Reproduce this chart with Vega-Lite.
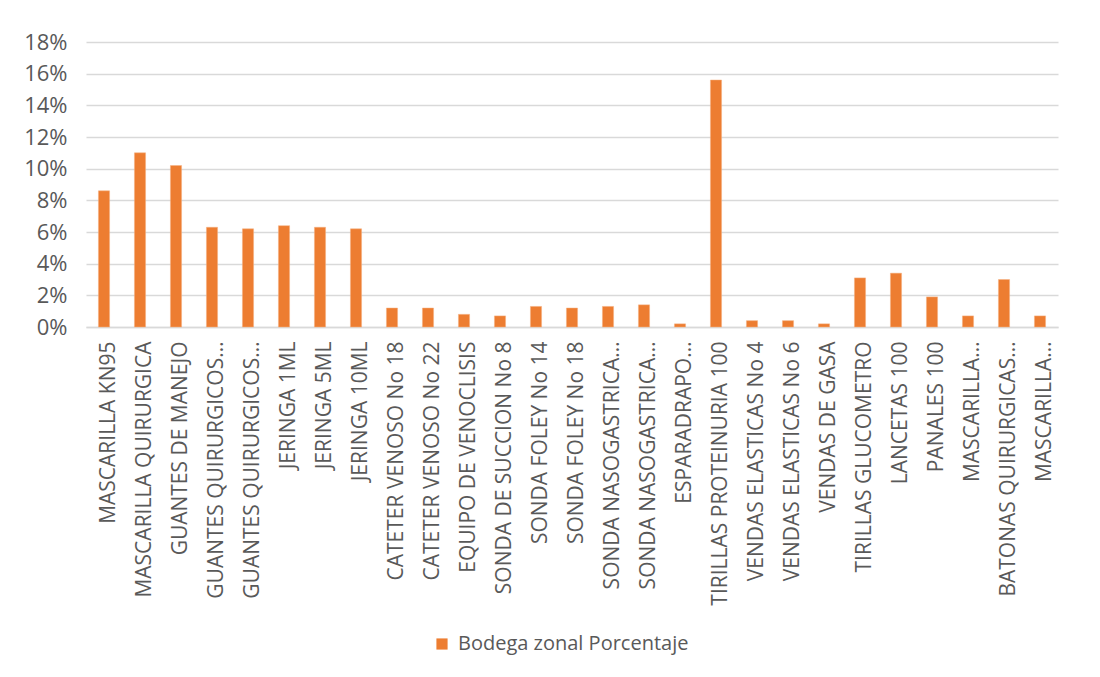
{
  "$schema": "https://vega.github.io/schema/vega-lite/v6.json",
  "autosize": "none",
  "width": 972,
  "height": 285,
  "padding": {"left": 86, "top": 42, "right": 42, "bottom": 350},
  "background": "white",
  "data": {
    "values": [
      {"producto": "MASCARILLA KN95", "serie": "Bodega zonal Porcentaje", "porcentaje": 0.086},
      {"producto": "MASCARILLA QUIRURGICA", "serie": "Bodega zonal Porcentaje", "porcentaje": 0.110},
      {"producto": "GUANTES DE MANEJO", "serie": "Bodega zonal Porcentaje", "porcentaje": 0.102},
      {"producto": "GUANTES QUIRURGICOS…|1", "serie": "Bodega zonal Porcentaje", "porcentaje": 0.063},
      {"producto": "GUANTES QUIRURGICOS…|2", "serie": "Bodega zonal Porcentaje", "porcentaje": 0.062},
      {"producto": "JERINGA 1ML", "serie": "Bodega zonal Porcentaje", "porcentaje": 0.064},
      {"producto": "JERINGA 5ML", "serie": "Bodega zonal Porcentaje", "porcentaje": 0.063},
      {"producto": "JERINGA 10ML", "serie": "Bodega zonal Porcentaje", "porcentaje": 0.062},
      {"producto": "CATETER VENOSO No 18", "serie": "Bodega zonal Porcentaje", "porcentaje": 0.012},
      {"producto": "CATETER VENOSO No 22", "serie": "Bodega zonal Porcentaje", "porcentaje": 0.012},
      {"producto": "EQUIPO DE VENOCLISIS", "serie": "Bodega zonal Porcentaje", "porcentaje": 0.008},
      {"producto": "SONDA DE SUCCION No 8", "serie": "Bodega zonal Porcentaje", "porcentaje": 0.007},
      {"producto": "SONDA FOLEY No 14", "serie": "Bodega zonal Porcentaje", "porcentaje": 0.013},
      {"producto": "SONDA FOLEY No 18", "serie": "Bodega zonal Porcentaje", "porcentaje": 0.012},
      {"producto": "SONDA NASOGASTRICA…|1", "serie": "Bodega zonal Porcentaje", "porcentaje": 0.013},
      {"producto": "SONDA NASOGASTRICA…|2", "serie": "Bodega zonal Porcentaje", "porcentaje": 0.014},
      {"producto": "ESPARADRAPO…", "serie": "Bodega zonal Porcentaje", "porcentaje": 0.002},
      {"producto": "TIRILLAS PROTEINURIA 100", "serie": "Bodega zonal Porcentaje", "porcentaje": 0.156},
      {"producto": "VENDAS ELASTICAS No 4", "serie": "Bodega zonal Porcentaje", "porcentaje": 0.004},
      {"producto": "VENDAS ELASTICAS No 6", "serie": "Bodega zonal Porcentaje", "porcentaje": 0.004},
      {"producto": "VENDAS DE GASA", "serie": "Bodega zonal Porcentaje", "porcentaje": 0.002},
      {"producto": "TIRILLAS GLUCOMETRO", "serie": "Bodega zonal Porcentaje", "porcentaje": 0.031},
      {"producto": "LANCETAS 100", "serie": "Bodega zonal Porcentaje", "porcentaje": 0.034},
      {"producto": "PANALES 100", "serie": "Bodega zonal Porcentaje", "porcentaje": 0.019},
      {"producto": "MASCARILLA…|1", "serie": "Bodega zonal Porcentaje", "porcentaje": 0.007},
      {"producto": "BATONAS QUIRURGICAS…", "serie": "Bodega zonal Porcentaje", "porcentaje": 0.030},
      {"producto": "MASCARILLA…|2", "serie": "Bodega zonal Porcentaje", "porcentaje": 0.007}
    ]
  },
  "mark": {"type": "bar", "stroke": "#F4B183", "strokeWidth": 0.5},
  "encoding": {
    "x": {
      "field": "producto",
      "type": "nominal",
      "sort": null,
      "scale": {"paddingInner": 0.69, "paddingOuter": 0.345},
      "axis": {
        "title": null,
        "labelExpr": "split(datum.value, '|')[0]",
        "labelAngle": -90,
        "labelAlign": "right",
        "labelBaseline": "middle",
        "labelPadding": 14,
        "labelOffset": 5,
        "labelFont": "Open Sans",
        "labelFontSize": 21,
        "labelColor": "#595959",
        "labelLimit": 500,
        "labelOverlap": false,
        "ticks": false,
        "domainColor": "#D9D9D9",
        "domainWidth": 1.5,
        "grid": false
      }
    },
    "y": {
      "field": "porcentaje",
      "type": "quantitative",
      "scale": {"domain": [0, 0.18], "nice": false},
      "axis": {
        "title": null,
        "format": ".0%",
        "values": [0, 0.02, 0.04, 0.06, 0.08, 0.10, 0.12, 0.14, 0.16, 0.18],
        "labelFont": "Open Sans",
        "labelFontSize": 22,
        "labelColor": "#595959",
        "labelPadding": 19,
        "ticks": false,
        "domain": false,
        "grid": true,
        "gridColor": "#D9D9D9",
        "gridWidth": 1.5
      }
    },
    "color": {
      "field": "serie",
      "type": "nominal",
      "scale": {"range": ["#ED7D31"]},
      "legend": {
        "title": null,
        "orient": "none",
        "legendX": 346,
        "legendY": 592,
        "symbolType": "square",
        "symbolSize": 125,
        "symbolStrokeWidth": 0,
        "labelFont": "Open Sans",
        "labelFontSize": 20,
        "labelLimit": 500,
        "labelColor": "#595959",
        "labelOffset": 6
      }
    }
  },
  "config": {"view": {"stroke": null}}
}
